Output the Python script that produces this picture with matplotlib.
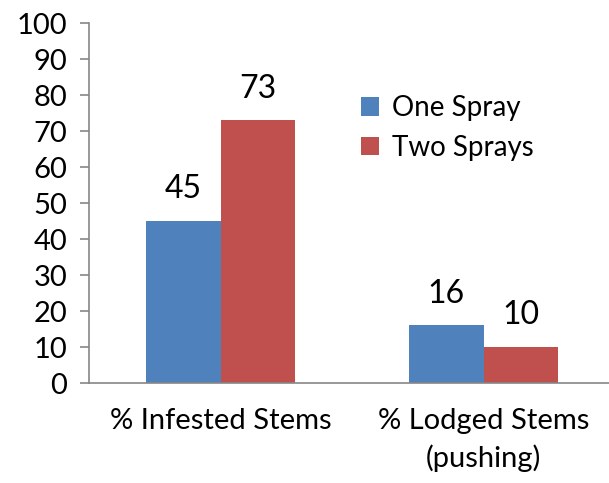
import matplotlib
matplotlib.use('Agg')
import matplotlib.pyplot as plt
import numpy as np

categories = ['% Infested Stems', '% Lodged Stems\n(pushing)']
one_spray = [45, 16]
two_sprays = [73, 10]
series_names = ['One Spray', 'Two Sprays']
colors = ['#4F81BD', '#C0504D']
yticks = list(range(0, 101, 10))

plt.rcParams['font.family'] = ['Lato', 'DejaVu Sans']

W, H = 609, 483
fig = plt.figure(figsize=(W / 100, H / 100), dpi=100)
ax = fig.add_axes([89 / W, (H - 383) / H, (W - 89) / W, 360 / H])

x = np.arange(len(categories))
bw = 0.285
b1 = ax.bar(x - bw / 2, one_spray, bw, color=colors[0], label=series_names[0])
b2 = ax.bar(x + bw / 2, two_sprays, bw, color=colors[1], label=series_names[1])

for bars, vals in [(b1, one_spray), (b2, two_sprays)]:
    for b, v in zip(bars, vals):
        ax.annotate(str(v), (b.get_x() + b.get_width() / 2, v), xytext=(0, 12),
                    textcoords='offset points', ha='center', va='bottom', fontsize=23)

ax.set_xlim(-0.5, 1.5 - 6 / 263)
ax.set_ylim(0, 100)
ax.set_yticks(yticks)
ax.set_xticks(x)
ax.set_xticklabels(categories, fontsize=21, linespacing=1.45)
ax.tick_params(axis='y', labelsize=21, length=6.5, width=1.2, color='#868686', pad=9)
ax.tick_params(axis='x', length=0, pad=18)

for s in ['top', 'right']:
    ax.spines[s].set_visible(False)
for s in ['left', 'bottom']:
    ax.spines[s].set_color('#868686')
    ax.spines[s].set_linewidth(1.2)

ax.legend(loc='upper left', bbox_to_anchor=(0.523, 0.80), frameon=False, fontsize=20,
          handlelength=0.65, handleheight=0.65, handletextpad=0.45, labelspacing=0.5,
          borderaxespad=0, borderpad=0)

fig.savefig('out.png', dpi=100)
